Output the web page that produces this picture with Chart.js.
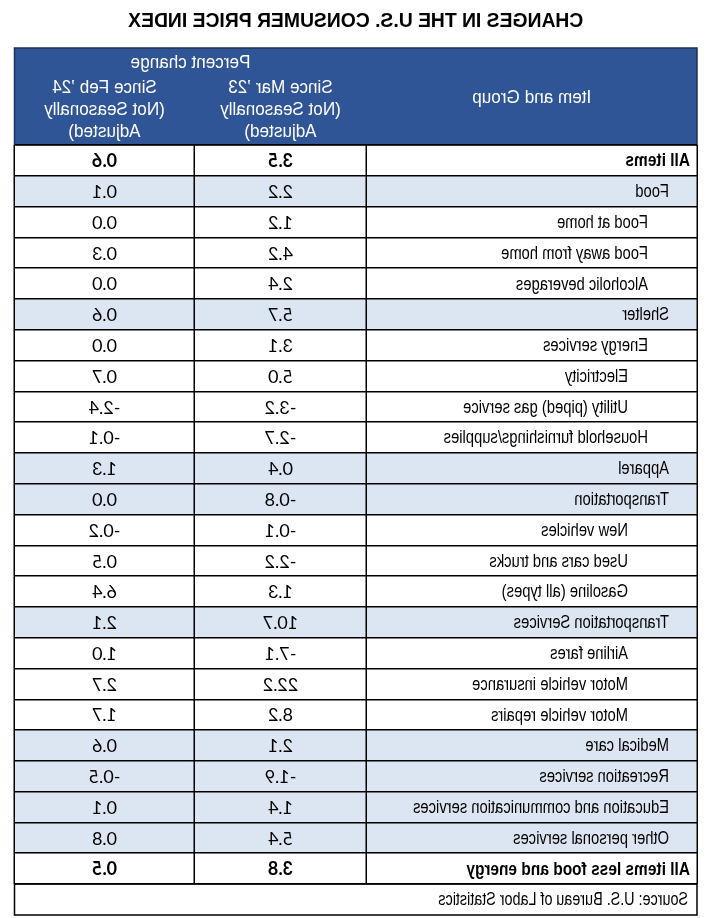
<!DOCTYPE html>
<html>
<head>
<meta charset="utf-8">
<script src="https://cdn.jsdelivr.net/npm/chart.js@4/dist/chart.umd.min.js"></script>
<style>
  html, body { margin: 0; padding: 0; background: #fff; }
  /* the reference picture is a mirror image, so the whole canvas is flipped */
  #cpi { display: block; transform: scaleX(-1); }
</style>
</head>
<body>
<canvas id="cpi" width="724" height="918"></canvas>
<script>
// Table rows
const items = [
    'All items', 'Food', 'Food at home', 'Food away from home', 'Alcoholic beverages',
    'Shelter', 'Energy services', 'Electricity', 'Utility (piped) gas service',
    'Household furnishings/supplies', 'Apparel', 'Transportation', 'New vehicles',
    'Used cars and trucks', 'Gasoline (all types)', 'Transportation Services',
    'Airline fares', 'Motor vehicle insurance', 'Motor vehicle repairs', 'Medical care',
    'Recreation services', 'Education and communication services',
    'Other personal services', 'All items less food and energy'
];
// hierarchy level of each item (0 = aggregate, 1 = group, 2-3 = sub items)
const levels = [0, 1, 2, 2, 2, 1, 2, 3, 3, 2, 1, 1, 3, 3, 3, 1, 3, 3, 3, 1, 1, 1, 1, 0];
const sinceMar23 = [3.5, 2.2, 1.2, 4.2, 2.4, 5.7, 3.1, 5.0, -3.2, -2.7, 0.4, -0.8, -0.1,
    -2.2, 1.3, 10.7, -7.1, 22.2, 8.2, 2.1, -1.9, 1.4, 5.4, 3.8];
const sinceFeb24 = [0.6, 0.1, 0.0, 0.3, 0.0, 0.6, 0.0, 0.7, -2.4, -0.1, 1.3, 0.0, -0.2,
    0.5, 6.4, 2.1, 1.0, 2.7, 1.7, 0.6, -0.5, 0.1, 0.8, 0.5];

const TITLE = 'CHANGES IN THE U.S. CONSUMER PRICE INDEX';
const SOURCE = 'Source: U.S. Bureau of Labor Statistics';

// layout
const COL_W = [330.5, 172, 180];          // item | since Mar '23 | since Feb '24
const TABLE_W = COL_W[0] + COL_W[1] + COL_W[2];
const EDGES = [0, COL_W[0], COL_W[0] + COL_W[1], TABLE_W];
const HEADER_H = 97;
const SOURCE_H = 31;
const INDENT = [7, 28, 49, 69];

const BLUE = '#2f5597';
const SHADE = '#dce6f2';
const SANS = '"Liberation Sans", Arial, sans-serif';
const NUMFONT = 'Lato, "Open Sans", sans-serif';

// canvas has no narrow font installed, so squeeze the text horizontally
function drawText(ctx, text, x, y, font, align, sx) {
    ctx.save();
    ctx.font = font;
    ctx.textAlign = align;
    ctx.translate(x, y);
    ctx.scale(sx, 1);
    ctx.fillText(text, 0, 0);
    ctx.restore();
}

const tablePlugin = {
    id: 'tableText',
    beforeDraw(chart) {
        const { ctx, chartArea: a } = chart;
        // header band
        ctx.save();
        ctx.fillStyle = BLUE;
        ctx.fillRect(a.left, a.top - HEADER_H, a.width, HEADER_H);
        ctx.strokeStyle = '#1f2f55';
        ctx.lineWidth = 1.5;
        ctx.strokeRect(a.left, a.top - HEADER_H, a.width, HEADER_H);
        ctx.restore();
    },
    afterDraw(chart) {
        const { ctx, chartArea: a, scales: { x, y } } = chart;
        const top = a.top - HEADER_H;
        const mid = (i) => x.getPixelForValue((EDGES[i] + EDGES[i + 1]) / 2);

        ctx.save();
        ctx.textBaseline = 'middle';

        // title
        ctx.fillStyle = '#000';
        drawText(ctx, TITLE, (a.left + a.right) / 2, 21, 'bold 21px ' + SANS, 'center', 0.92);

        // header text
        ctx.fillStyle = '#fff';
        const hf = '18px ' + SANS;
        drawText(ctx, 'Item and Group', mid(0), top + 50, hf, 'center', 0.95);
        drawText(ctx, 'Percent change', x.getPixelForValue((EDGES[1] + EDGES[3]) / 2), top + 15, hf, 'center', 0.95);
        const heads = [['Since Mar \u201923', '(Not Seasonally', 'Adjusted)'],
                       ['Since Feb \u201924', '(Not Seasonally', 'Adjusted)']];
        heads.forEach((lines, c) => {
            lines.forEach((t, k) => drawText(ctx, t, mid(c + 1), top + 40 + k * 22, hf, 'center', 0.95));
        });

        // rows
        ctx.fillStyle = '#000';
        items.forEach((label, i) => {
            const py = y.getPixelForValue(i) + 1;
            const bold = levels[i] === 0;
            drawText(ctx, label, x.getPixelForValue(0) + INDENT[levels[i]], py,
                (bold ? 'bold ' : '') + '18px ' + SANS, 'left', bold ? 0.86 : 0.82);
            const nf = (bold ? 'bold ' : '') + '18px ' + NUMFONT;
            drawText(ctx, sinceMar23[i].toFixed(1), mid(1), py, nf, 'center', 1);
            drawText(ctx, sinceFeb24[i].toFixed(1), mid(2), py, nf, 'center', 1);
        });

        // source row
        ctx.strokeStyle = '#000';
        ctx.lineWidth = 1.5;
        ctx.strokeRect(a.left, a.bottom, a.width, SOURCE_H);
        drawText(ctx, SOURCE, a.left + 9, a.bottom + SOURCE_H / 2 + 1, '17.5px ' + SANS, 'left', 0.82);
        ctx.restore();
    }
};

const ctx = document.getElementById('cpi').getContext('2d');

new Chart(ctx, {
    type: 'bar',
    data: {
        labels: items,
        datasets: [{
            // shaded group rows
            data: items.map((_, i) => levels[i] === 1 ? [0, TABLE_W] : null),
            backgroundColor: SHADE,
            borderWidth: 0,
            barPercentage: 1,
            categoryPercentage: 1
        }]
    },
    options: {
        indexAxis: 'y',
        responsive: false,
        animation: false,
        events: [],
        layout: { padding: { left: 27, right: 14.5, top: 145, bottom: 34 } },
        plugins: {
            legend: { display: false },
            tooltip: { enabled: false },
            title: { display: false }
        },
        scales: {
            x: {
                type: 'linear',
                min: 0,
                max: TABLE_W,
                afterBuildTicks: (axis) => { axis.ticks = EDGES.map(v => ({ value: v })); },
                ticks: { display: false },
                grid: { color: '#000', lineWidth: 1.5, drawTicks: false, z: 1 },
                border: { display: false }
            },
            y: {
                ticks: { display: false },
                grid: { offset: true, color: '#000', lineWidth: 1.5, drawTicks: false, z: 1 },
                border: { display: false }
            }
        }
    },
    plugins: [tablePlugin]
});
</script>
</body>
</html>
